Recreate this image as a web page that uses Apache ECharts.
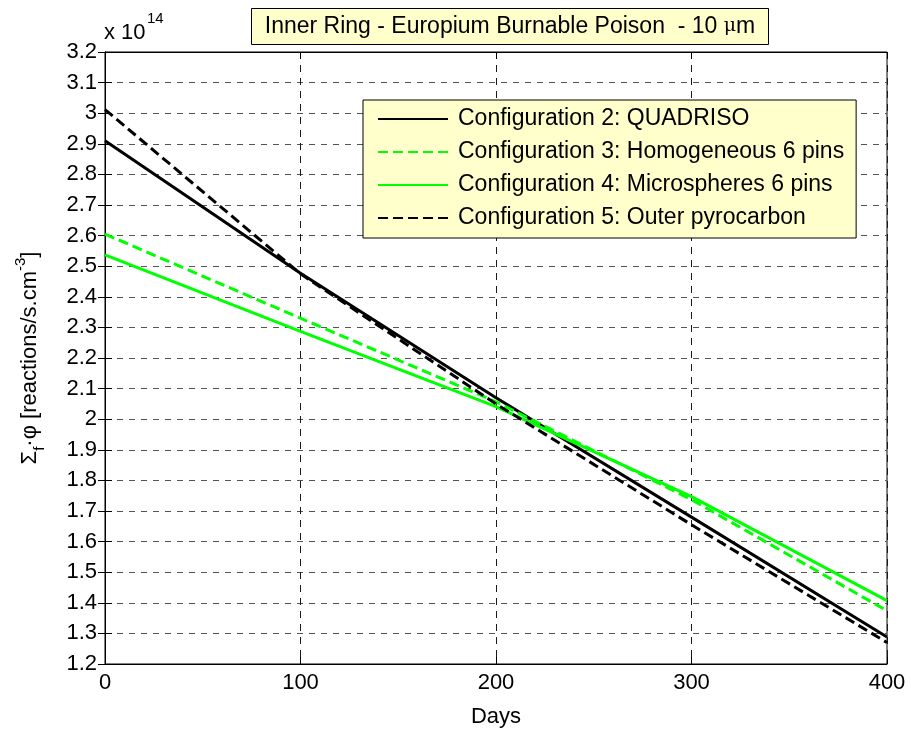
<!DOCTYPE html>
<html><head><meta charset="utf-8">
<script src="https://cdn.jsdelivr.net/npm/echarts@6/dist/echarts.min.js"></script>
<style>html,body{margin:0;padding:0;background:#fff}#c{width:911px;height:733px}</style>
</head><body><div id="c"></div>
<script>
// Days axis
const days = [0, 100, 200, 300, 400];
// Sigma_f * phi values, in units of 1e14 reactions/s.cm^-3
const config2 = [2.91, 2.477, 2.07, 1.68, 1.288];   // QUADRISO (black solid)
const config3 = [2.605, 2.33, 2.057, 1.737, 1.374]; // Homogeneous 6 pins (green dashed)
const config4 = [2.537, 2.287, 2.041, 1.747, 1.407]; // Microspheres 6 pins (green solid)
const config5 = [3.012, 2.475, 2.05, 1.655, 1.27];  // Outer pyrocarbon (black dashed)
const seriesNames = [
  'Configuration 2: QUADRISO',
  'Configuration 3: Homogeneous 6 pins',
  'Configuration 4: Microspheres 6 pins',
  'Configuration 5: Outer pyrocarbon'
];

const FONT = '"Liberation Sans", Arial, Helvetica, sans-serif';
const pair = (xs, ys) => xs.map((x, i) => [x, ys[i]]);
const chart = echarts.init(document.getElementById('c'), null, {renderer: 'canvas'});

const dash = [10, 5];
function mk(name, data, color, type) {
  return {
    name, type: 'line', data: pair(days, data), symbol: 'none', showSymbol: false,
    lineStyle: {color, width: 3, type, cap: 'butt'}, itemStyle: {color},
    emphasis: {disabled: true}, animation: false, z: 3
  };
}

const yFmt = v => String(parseFloat(v.toFixed(1)));

chart.setOption({
  animation: false,
  backgroundColor: '#fff',
  grid: {left: 105, right: 24, top: 52, bottom: 65, show: true, borderColor: '#000', borderWidth: 1, containLabel: false},
  title: {
    text: '{a|Inner Ring - Europium Burnable Poison  - 10 }{mu|μ}{a|m}',
    left: 496, textAlign: 'center', top: 8,
    backgroundColor: '#ffffcc', borderColor: '#000', borderWidth: 1,
    padding: [7, 14, 7, 14],
    textStyle: {
      fontSize: 23, fontWeight: 'normal', color: '#000', fontFamily: FONT,
      rich: {a: {fontSize: 23, fontFamily: FONT, color: '#000'}, mu: {fontSize: 19, fontFamily: '"DejaVu Serif", serif', color: '#000'}}
    }
  },
  legend: {
    orient: 'vertical', left: 363, top: 100,
    backgroundColor: '#ffffcc', borderColor: '#000', borderWidth: 1,
    padding: [7, 12, 8, 14], itemGap: 9, itemWidth: 70, itemHeight: 2,
    textStyle: {fontFamily: FONT, fontSize: 23, color: '#000', lineHeight: 24, padding: [0, 0, 0, 5]},
    data: seriesNames, selectedMode: false
  },
  graphic: [
    {type: 'text', left: 104, top: 22, style: {text: 'x 10', font: '22px ' + FONT, fill: '#000'}},
    {type: 'text', left: 147, top: 11, style: {text: '14', font: '15px ' + FONT, fill: '#000'}}
  ],
  xAxis: [{
    type: 'value', min: 0, max: 400, interval: 100,
    name: 'Days', nameLocation: 'middle', nameGap: 42,
    nameTextStyle: {fontFamily: FONT, fontSize: 22, color: '#000'},
    axisLine: {show: true, lineStyle: {color: '#000', width: 1}},
    axisTick: {show: true, inside: true, length: 7, lineStyle: {color: '#000'}},
    axisLabel: {fontFamily: FONT, fontSize: 22, color: '#000', margin: 8},
    splitLine: {show: true, lineStyle: {color: '#1a1a1a', width: 1, type: [7, 6]}}
  }, {
    type: 'value', position: 'top', min: 0, max: 400, interval: 100,
    axisLine: {show: true, lineStyle: {color: '#000'}},
    axisTick: {show: true, inside: true, length: 7, lineStyle: {color: '#000'}},
    axisLabel: {show: false}, splitLine: {show: false}
  }],
  yAxis: [{
    type: 'value', min: 1.2, max: 3.2, interval: 0.1,
    name: '{a|Σ}{s|f}{a|·φ [reactions/s.cm}{p|-3}{a|]}',
    nameLocation: 'middle', nameGap: 58, nameRotate: 90,
    nameTextStyle: {
      fontFamily: FONT, fontSize: 22, color: '#000',
      rich: {
        a: {fontSize: 22, fontFamily: FONT, color: '#000', lineHeight: 34},
        s: {fontSize: 15, fontFamily: FONT, color: '#000', verticalAlign: 'bottom', lineHeight: 34},
        p: {fontSize: 15, fontFamily: FONT, color: '#000', verticalAlign: 'top', lineHeight: 34}
      }
    },
    axisLine: {show: true, lineStyle: {color: '#000', width: 1}},
    axisTick: {show: true, inside: true, length: 7, lineStyle: {color: '#000'}},
    axisLabel: {fontFamily: FONT, fontSize: 22, color: '#000', margin: 8, formatter: yFmt},
    splitLine: {show: true, lineStyle: {color: '#555', width: 1, type: [6, 6]}}
  }, {
    type: 'value', position: 'right', min: 1.2, max: 3.2, interval: 0.1,
    axisLine: {show: true, lineStyle: {color: '#000'}},
    axisTick: {show: true, inside: true, length: 7, lineStyle: {color: '#000'}},
    axisLabel: {show: false}, splitLine: {show: false}
  }],
  series: [
    mk(seriesNames[0], config2, '#000000', 'solid'),
    mk(seriesNames[1], config3, '#00ff00', dash),
    mk(seriesNames[2], config4, '#00ff00', 'solid'),
    mk(seriesNames[3], config5, '#000000', dash)
  ]
});
</script></body></html>
